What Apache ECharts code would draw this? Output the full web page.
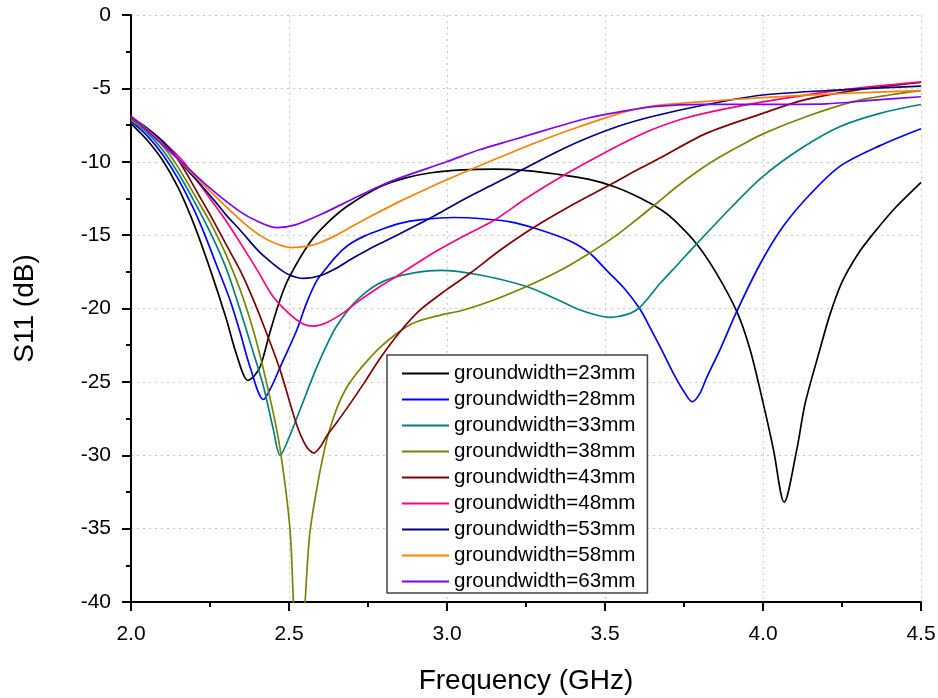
<!DOCTYPE html>
<html>
<head>
<meta charset="utf-8">
<script src="https://cdn.jsdelivr.net/npm/echarts@6/dist/echarts.min.js"></script>
<style>html,body{margin:0;padding:0;background:#fff}#c{width:938px;height:698px}</style>
</head>
<body>
<div id="c"></div>
<script>
const seriesNames = ['groundwidth=23mm','groundwidth=28mm','groundwidth=33mm','groundwidth=38mm','groundwidth=43mm','groundwidth=48mm','groundwidth=53mm','groundwidth=58mm','groundwidth=63mm'];
const xTicks = [2.0, 2.5, 3.0, 3.5, 4.0, 4.5];
const yTicks = [0, -5, -10, -15, -20, -25, -30, -35, -40];

const gw23 = [[2.0,-7.4],[2.05,-8.5],[2.1,-9.9],[2.15,-11.8],[2.2,-14.3],[2.25,-17.3],[2.3,-20.6],[2.335,-23.2],[2.37,-24.9],[2.39,-24.6],[2.41,-23.9],[2.44,-21.6],[2.47,-19.5],[2.5,-17.9],[2.566,-15.5],[2.62,-14.2],[2.683,-13.05],[2.788,-11.7],[2.87,-11.1],[2.95,-10.75],[3.05,-10.55],[3.15,-10.5],[3.25,-10.6],[3.35,-10.85],[3.45,-11.2],[3.53,-11.7],[3.61,-12.45],[3.68,-13.3],[3.72,-14.0],[3.79,-15.6],[3.85,-17.5],[3.917,-20.2],[3.959,-22.8],[4.0,-26.4],[4.033,-29.6],[4.067,-33.2],[4.107,-29.6],[4.133,-26.5],[4.18,-22.8],[4.212,-20.4],[4.25,-18.2],[4.3,-16.3],[4.349,-14.9],[4.42,-13.1],[4.5,-11.4]];
const gw28 = [[2.0,-7.25],[2.05,-8.2],[2.1,-9.5],[2.15,-11.2],[2.2,-13.3],[2.234,-15.0],[2.27,-17.0],[2.313,-19.4],[2.345,-21.6],[2.377,-24.0],[2.419,-26.2],[2.445,-25.3],[2.472,-24.0],[2.524,-21.5],[2.556,-19.6],[2.588,-18.1],[2.62,-17.2],[2.645,-16.55],[2.672,-15.95],[2.70,-15.5],[2.74,-15.05],[2.788,-14.65],[2.851,-14.2],[2.92,-13.95],[3.02,-13.8],[3.12,-13.9],[3.2,-14.1],[3.273,-14.5],[3.379,-15.3],[3.45,-16.2],[3.505,-17.4],[3.56,-18.6],[3.611,-20.05],[3.645,-21.4],[3.679,-22.8],[3.716,-24.4],[3.748,-25.6],[3.776,-26.35],[3.80,-25.8],[3.822,-24.7],[3.864,-22.8],[3.917,-20.2],[3.99,-17.0],[4.064,-14.4],[4.15,-12.2],[4.244,-10.3],[4.37,-8.9],[4.5,-7.75]];
const gw33 = [[2.0,-7.2],[2.05,-8.0],[2.1,-9.2],[2.15,-10.8],[2.2,-12.7],[2.255,-15.0],[2.3,-17.2],[2.335,-19.4],[2.38,-22.5],[2.419,-25.3],[2.45,-28.2],[2.472,-30.0],[2.5,-28.8],[2.535,-26.9],[2.588,-24.0],[2.64,-21.6],[2.67,-20.6],[2.703,-19.7],[2.74,-18.95],[2.78,-18.35],[2.83,-17.9],[2.9,-17.55],[2.978,-17.4],[3.1,-17.7],[3.252,-18.5],[3.35,-19.4],[3.421,-20.1],[3.516,-20.6],[3.57,-20.4],[3.611,-19.9],[3.674,-18.3],[3.73,-17.0],[3.79,-15.6],[3.9,-13.1],[4.0,-11.0],[4.12,-9.1],[4.244,-7.6],[4.37,-6.7],[4.5,-6.1]];
const gw38 = [[2.0,-7.1],[2.05,-7.9],[2.1,-8.9],[2.15,-10.4],[2.218,-12.9],[2.25,-14.1],[2.3,-16.3],[2.355,-19.3],[2.40,-22.5],[2.445,-26.6],[2.472,-29.6],[2.503,-35.0],[2.514,-40.0],[2.532,-47.0],[2.551,-40.0],[2.566,-35.3],[2.592,-31.8],[2.619,-29.0],[2.64,-27.5],[2.661,-26.3],[2.685,-25.3],[2.715,-24.4],[2.746,-23.6],[2.788,-22.65],[2.841,-21.7],[2.893,-21.0],[2.97,-20.5],[3.052,-20.1],[3.15,-19.4],[3.252,-18.5],[3.35,-17.5],[3.442,-16.35],[3.53,-15.1],[3.611,-13.75],[3.674,-12.65],[3.73,-11.65],[3.79,-10.7],[3.85,-9.85],[3.92,-9.0],[4.0,-8.1],[4.14,-6.9],[4.286,-5.9],[4.4,-5.45],[4.5,-5.15]];
const gw43 = [[2.0,-7.0],[2.05,-7.75],[2.1,-8.7],[2.15,-9.9],[2.218,-12.4],[2.25,-13.6],[2.3,-15.6],[2.35,-17.6],[2.387,-19.4],[2.424,-21.4],[2.472,-24.2],[2.524,-27.9],[2.555,-29.4],[2.579,-29.85],[2.60,-29.4],[2.619,-28.7],[2.65,-27.8],[2.693,-26.5],[2.74,-25.0],[2.788,-23.4],[2.851,-21.6],[2.915,-20.1],[3.0,-18.7],[3.073,-17.6],[3.17,-16.0],[3.273,-14.5],[3.4,-12.9],[3.526,-11.45],[3.611,-10.45],[3.674,-9.75],[3.822,-8.05],[4.0,-6.7],[4.128,-5.8],[4.3,-5.1],[4.5,-4.6]];
const gw48 = [[2.0,-6.95],[2.05,-7.7],[2.1,-8.6],[2.166,-10.0],[2.2,-11.0],[2.25,-12.5],[2.3,-14.0],[2.345,-15.5],[2.4,-17.4],[2.45,-19.2],[2.503,-20.4],[2.545,-21.05],[2.577,-21.2],[2.62,-20.95],[2.672,-20.3],[2.72,-19.5],[2.788,-18.5],[2.841,-17.8],[2.95,-16.3],[3.05,-15.1],[3.152,-13.95],[3.25,-12.5],[3.379,-10.8],[3.48,-9.6],[3.579,-8.5],[3.65,-7.8],[3.75,-7.05],[3.88,-6.4],[4.033,-5.8],[4.25,-5.1],[4.5,-4.55]];
const gw53 = [[2.0,-6.95],[2.05,-7.7],[2.1,-8.6],[2.176,-10.5],[2.218,-11.5],[2.27,-12.8],[2.3,-13.6],[2.345,-14.65],[2.4,-16.0],[2.43,-16.6],[2.47,-17.3],[2.5,-17.7],[2.545,-17.95],[2.6,-17.75],[2.65,-17.25],[2.7,-16.6],[2.75,-16.0],[2.8,-15.45],[2.851,-14.9],[2.946,-13.85],[3.05,-12.6],[3.15,-11.5],[3.241,-10.5],[3.35,-9.3],[3.431,-8.5],[3.547,-7.55],[3.653,-6.9],[3.81,-6.15],[4.0,-5.45],[4.25,-5.1],[4.5,-4.85]];
const gw58 = [[2.0,-6.9],[2.05,-7.8],[2.1,-8.8],[2.176,-10.4],[2.25,-12.0],[2.345,-13.95],[2.4,-14.9],[2.45,-15.5],[2.508,-15.85],[2.56,-15.75],[2.6,-15.5],[2.65,-15.0],[2.7,-14.4],[2.756,-13.75],[2.851,-12.7],[2.95,-11.7],[3.073,-10.55],[3.2,-9.4],[3.305,-8.5],[3.42,-7.6],[3.547,-6.7],[3.65,-6.2],[3.81,-5.9],[4.0,-5.63],[4.25,-5.35],[4.5,-5.15]];
const gw63 = [[2.0,-6.9],[2.05,-7.85],[2.1,-8.85],[2.176,-10.34],[2.25,-11.8],[2.345,-13.4],[2.4,-14.05],[2.461,-14.49],[2.52,-14.3],[2.6,-13.6],[2.7,-12.55],[2.788,-11.65],[2.851,-11.1],[2.999,-10.0],[3.1,-9.2],[3.21,-8.5],[3.35,-7.6],[3.45,-7.0],[3.547,-6.6],[3.652,-6.25],[3.81,-6.09],[4.0,-6.09],[4.2,-6.05],[4.35,-5.8],[4.5,-5.57]];

const allData = [gw23, gw28, gw33, gw38, gw43, gw48, gw53, gw58, gw63];
const colors = ['#000000','#0000FF','#008080','#808000','#800000','#FF0080','#000080','#FF8000','#8000FF'];
const FONT = "'Liberation Sans', Arial, sans-serif";

const chart = echarts.init(document.getElementById('c'), null, {renderer: 'canvas'});
chart.setOption({
  animation: false,
  backgroundColor: '#fff',
  color: colors,
  grid: {left: 131, right: 17, top: 15, bottom: 96, containLabel: false, outerBoundsMode: 'none'},
  legend: {
    orient: 'vertical', left: 387, top: 355,
    padding: [8, 12, 1, 15],
    icon: 'rect',
    itemWidth: 47, itemHeight: 2, itemGap: 5.0,
    borderColor: '#444', borderWidth: 1.5,
    backgroundColor: '#fff',
    textStyle: {fontFamily: FONT, fontSize: 20.6, color: '#000', lineHeight: 20},
    data: seriesNames
  },
  xAxis: {
    type: 'value', min: xTicks[0], max: xTicks[xTicks.length - 1], interval: 0.5,
    name: 'Frequency (GHz)', nameLocation: 'middle', nameGap: 65,
    nameTextStyle: {fontFamily: FONT, fontSize: 28, color: '#000'},
    axisLine: {show: true, onZero: false, lineStyle: {color: '#000', width: 2}},
    axisTick: {show: true, inside: false, length: 9, lineStyle: {color: '#000', width: 2}},
    minorTick: {show: true, splitNumber: 2, length: 5, lineStyle: {color: '#000', width: 2}},
    axisLabel: {fontFamily: FONT, fontSize: 21, color: '#000', margin: 22, formatter: v => v.toFixed(1)},
    splitLine: {show: true, lineStyle: {color: '#c8c8c8', type: [2, 4], width: 1}}
  },
  yAxis: {
    type: 'value', min: yTicks[yTicks.length - 1], max: yTicks[0], interval: 5,
    name: 'S11 (dB)', nameLocation: 'middle', nameGap: 92, nameRotate: 90,
    nameTextStyle: {fontFamily: FONT, fontSize: 28, color: '#000'},
    axisLine: {show: true, onZero: false, lineStyle: {color: '#000', width: 2}},
    axisTick: {show: true, inside: false, length: 9, lineStyle: {color: '#000', width: 2}},
    minorTick: {show: true, splitNumber: 2, length: 5, lineStyle: {color: '#000', width: 2}},
    axisLabel: {fontFamily: FONT, fontSize: 21, color: '#000', margin: 20},
    splitLine: {show: true, lineStyle: {color: '#c8c8c8', type: [2, 4], width: 1}}
  },
  series: allData.map((d, i) => ({
    name: seriesNames[i], type: 'line', data: d,
    smooth: 0.3,
    symbol: 'none', showSymbol: false, clip: true,
    lineStyle: {width: 1.7, color: colors[i]},
    itemStyle: {color: colors[i]}
  }))
});
</script>
</body>
</html>
